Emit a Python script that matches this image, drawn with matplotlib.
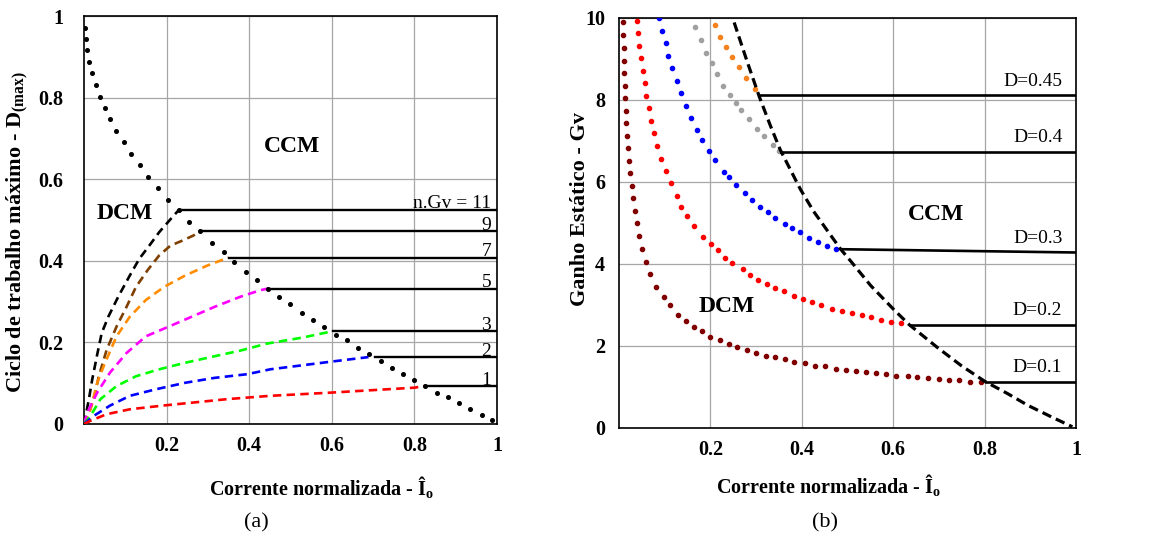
import matplotlib.pyplot as plt

plt.rcParams['font.family'] = ['Liberation Serif', 'DejaVu Serif']
plt.rcParams['mathtext.fontset'] = 'custom'
plt.rcParams['mathtext.rm'] = 'Liberation Serif'
plt.rcParams['mathtext.bf'] = 'Liberation Serif:bold'

# ---- (a) ciclo de trabalho maximo ----
bound_a_x = [0.002, 0.004, 0.007, 0.011, 0.020, 0.029, 0.038, 0.051, 0.063, 0.078, 0.096, 0.113,
             0.135, 0.154, 0.180, 0.204, 0.230, 0.255, 0.281, 0.310, 0.338, 0.364, 0.393, 0.419,
             0.446, 0.473, 0.500, 0.528, 0.554, 0.582, 0.610, 0.637, 0.663, 0.690, 0.718, 0.745,
             0.772, 0.800, 0.826, 0.854, 0.881, 0.908, 0.935, 0.963, 0.989]
bound_a_y = [0.972, 0.944, 0.916, 0.887, 0.860, 0.831, 0.802, 0.775, 0.747, 0.718, 0.691, 0.662,
             0.634, 0.606, 0.578, 0.549, 0.525, 0.496, 0.472, 0.444, 0.421, 0.396, 0.372, 0.352,
             0.332, 0.312, 0.294, 0.273, 0.255, 0.237, 0.219, 0.205, 0.186, 0.171, 0.155, 0.138,
             0.122, 0.108, 0.093, 0.077, 0.065, 0.051, 0.036, 0.023, 0.009]

ngv_labels = ['n.Gv = 11', '9', '7', '5', '3', '2', '1']
ngv_colors = ['black', '#7f3f00', '#ff8c00', '#ff00ff', '#00ff00', '#0000ff', '#ff0000']
ngv_x = [
    [0, 0.006, 0.012, 0.020, 0.032, 0.043, 0.059, 0.083, 0.111, 0.134, 0.158, 0.182, 0.213, 0.230],
    [0, 0.010, 0.024, 0.036, 0.055, 0.079, 0.103, 0.126, 0.154, 0.182, 0.209, 0.237, 0.265, 0.281],
    [0, 0.007, 0.016, 0.032, 0.051, 0.079, 0.111, 0.150, 0.194, 0.245, 0.300, 0.350],
    [0, 0.008, 0.032, 0.063, 0.103, 0.150, 0.206, 0.261, 0.316, 0.379, 0.427, 0.446],
    [0, 0.016, 0.040, 0.079, 0.126, 0.182, 0.245, 0.316, 0.379, 0.443, 0.530, 0.600],
    [0, 0.024, 0.063, 0.111, 0.174, 0.245, 0.316, 0.395, 0.451, 0.600, 0.689],
    [0, 0.016, 0.055, 0.111, 0.190, 0.269, 0.348, 0.451, 0.600, 0.700, 0.800, 0.826],
]
ngv_y = [
    [0, 0.030, 0.061, 0.109, 0.170, 0.223, 0.263, 0.312, 0.364, 0.405, 0.437, 0.470, 0.506, 0.525],
    [0, 0.025, 0.061, 0.117, 0.182, 0.239, 0.287, 0.336, 0.377, 0.413, 0.437, 0.449, 0.462, 0.472],
    [0, 0.015, 0.036, 0.101, 0.150, 0.215, 0.263, 0.304, 0.336, 0.364, 0.389, 0.408],
    [0, 0.028, 0.077, 0.126, 0.174, 0.215, 0.239, 0.263, 0.287, 0.312, 0.328, 0.332],
    [0, 0.020, 0.061, 0.093, 0.117, 0.134, 0.150, 0.166, 0.180, 0.197, 0.212, 0.227],
    [0, 0.020, 0.045, 0.069, 0.085, 0.101, 0.113, 0.122, 0.134, 0.153, 0.164],
    [0, 0.008, 0.024, 0.036, 0.045, 0.053, 0.061, 0.069, 0.077, 0.083, 0.089, 0.093],
]
# inicio das retas horizontais (CCM)
ngv_line_x = [0.230, 0.281, 0.352, 0.446, 0.604, 0.704, 0.826]
ngv_line_y = [0.525, 0.472, 0.408, 0.332, 0.227, 0.164, 0.093]

# ---- (b) ganho estatico ----
bound_b_x = [0.252, 0.280, 0.307, 0.331, 0.353, 0.397, 0.426, 0.485, 0.507, 0.551, 0.602, 0.635,
             0.697, 0.749, 0.800, 0.850, 0.895, 0.950, 0.992]
bound_b_y = [9.89, 8.95, 8.08, 7.38, 6.78, 5.82, 5.28, 4.36, 4.07, 3.47, 2.88, 2.52,
             1.96, 1.52, 1.14, 0.84, 0.55, 0.25, 0.03]

d_labels = ['D=0.1', 'D=0.2', 'D=0.3', 'D=0.4', 'D=0.45']
d_colors = ['#800000', '#ff0000', '#0000ff', '#a0a0a0', '#f5821f']
d_x = [
    [0.0088, 0.0095, 0.0117, 0.0117, 0.0117, 0.0139, 0.0139, 0.0154, 0.0161, 0.0183, 0.0205, 0.022,
     0.024, 0.0286, 0.0308, 0.0352, 0.0396, 0.044, 0.0498, 0.0586, 0.0689, 0.082, 0.098, 0.111,
     0.130, 0.147, 0.165, 0.182, 0.199, 0.220, 0.240, 0.259, 0.280, 0.300, 0.322, 0.342, 0.364,
     0.384, 0.406, 0.428, 0.451, 0.474, 0.496, 0.518, 0.540, 0.562, 0.584, 0.606, 0.632, 0.653,
     0.677, 0.701, 0.723, 0.745, 0.769, 0.791],
    [0.040, 0.042, 0.044, 0.048, 0.053, 0.057, 0.059, 0.065, 0.070, 0.076, 0.084, 0.092, 0.103,
     0.113, 0.126, 0.136, 0.149, 0.164, 0.183, 0.201, 0.216, 0.232, 0.248, 0.271, 0.287, 0.304,
     0.324, 0.342, 0.362, 0.382, 0.403, 0.423, 0.443, 0.467, 0.489, 0.509, 0.531, 0.552, 0.574,
     0.595, 0.617],
    [0.088, 0.095, 0.102, 0.108, 0.117, 0.126, 0.136, 0.147, 0.158, 0.170, 0.181, 0.196, 0.210,
     0.229, 0.241, 0.256, 0.275, 0.291, 0.308, 0.325, 0.342, 0.363, 0.379, 0.396, 0.415, 0.436,
     0.456, 0.475],
    [0.166, 0.179, 0.190, 0.203, 0.215, 0.228, 0.242, 0.256, 0.267, 0.284, 0.302, 0.318, 0.336,
     0.351],
    [0.210, 0.222, 0.235, 0.248, 0.263, 0.278, 0.297],
]
d_y = [
    [9.89, 9.58, 9.26, 8.96, 8.65, 8.34, 8.04, 7.74, 7.43, 7.12, 6.82, 6.51, 6.21, 5.90, 5.60,
     5.29, 4.99, 4.68, 4.37, 4.06, 3.75, 3.44, 3.20, 2.99, 2.75, 2.61, 2.47, 2.36, 2.23, 2.15,
     2.05, 1.97, 1.89, 1.83, 1.75, 1.72, 1.68, 1.62, 1.58, 1.51, 1.50, 1.45, 1.42, 1.38, 1.36,
     1.34, 1.31, 1.28, 1.26, 1.24, 1.22, 1.20, 1.17, 1.17, 1.13, 1.11],
    [9.93, 9.63, 9.32, 9.02, 8.71, 8.41, 8.10, 7.80, 7.49, 7.19, 6.88, 6.57, 6.27, 5.97, 5.66,
     5.40, 5.17, 4.93, 4.67, 4.48, 4.33, 4.14, 4.02, 3.87, 3.72, 3.60, 3.50, 3.42, 3.34, 3.22,
     3.14, 3.08, 3.00, 2.91, 2.86, 2.81, 2.75, 2.70, 2.63, 2.58, 2.55],
    [9.99, 9.69, 9.38, 9.07, 8.77, 8.46, 8.16, 7.85, 7.55, 7.27, 7.02, 6.76, 6.54, 6.25, 6.13,
     5.93, 5.74, 5.56, 5.40, 5.26, 5.11, 4.98, 4.87, 4.79, 4.64, 4.53, 4.45, 4.37],
    [9.77, 9.46, 9.15, 8.91, 8.63, 8.35, 8.12, 7.93, 7.76, 7.53, 7.29, 7.11, 6.90, 6.76],
    [9.83, 9.54, 9.28, 9.04, 8.80, 8.54, 8.26],
]
# retas horizontais (CCM): inicio x, y inicial, y final
d_line_x = [0.804, 0.636, 0.486, 0.355, 0.308]
d_line_y0 = [1.12, 2.51, 4.36, 6.74, 8.11]
d_line_y1 = [1.12, 2.51, 4.28, 6.74, 8.11]

fig = plt.figure(figsize=(11.71, 5.36), dpi=100)
ax1 = fig.add_axes([0.0717, 0.209, 0.3527, 0.761])
ax2 = fig.add_axes([0.5286, 0.2015, 0.3903, 0.765])

tick_font = dict(fontsize=14.5, fontweight='bold')
grid_kw = dict(color='#a6a6a6', lw=0.9)

# (a)
for i in range(len(ngv_labels)):
    ax1.plot(ngv_x[i], ngv_y[i], color=ngv_colors[i], lw=1.9, dashes=(3.2, 2.0), zorder=3)
    ax1.plot([ngv_line_x[i], 1.0], [ngv_line_y[i], ngv_line_y[i]], color='black', lw=1.7, zorder=3)
    ax1.annotate(ngv_labels[i], (0.986, ngv_line_y[i]), xytext=(0, 1), textcoords='offset points',
                 ha='right', va='baseline', fontsize=14)
ax1.plot(bound_a_x, bound_a_y, 'o', color='black', ms=2.6, zorder=4)
ax1.text(0.098, 0.517, 'DCM', ha='center', va='center', fontsize=17, fontweight='bold')
ax1.text(0.504, 0.680, 'CCM', ha='center', va='center', fontsize=17, fontweight='bold')

ax1.set_xlim(0, 1)
ax1.set_ylim(0, 1)
ax1.set_xticks([0.2, 0.4, 0.6, 0.8, 1.0])
ax1.set_xticklabels(['0.2', '0.4', '0.6', '0.8', '1'], **tick_font)
ax1.set_yticks([0, 0.2, 0.4, 0.6, 0.8, 1.0])
ax1.set_yticklabels(['0', '0.2', '0.4', '0.6', '0.8', '1'], **tick_font)
ax1.tick_params(axis='y', length=0, pad=15)
ax1.tick_params(axis='x', length=0, pad=9)
ax1.grid(True, **grid_kw)
ax1.set_axisbelow(True)
ax1.set_xlabel('Corrente normalizada - Î$_\\mathbf{o}$', fontsize=14.5, fontweight='bold')
ax1.xaxis.set_label_coords(0.576, -0.125)
ax1.set_ylabel('Ciclo de trabalho máximo - D$_\\mathbf{(max)}$', fontsize=16, fontweight='bold')
ax1.yaxis.set_label_coords(-0.128, 0.47)

# (b)
for i in range(len(d_labels)):
    ax2.plot(d_x[i], d_y[i], 'o', color=d_colors[i], ms=3.0, zorder=3)
    ax2.plot([d_line_x[i], 1.0], [d_line_y0[i], d_line_y1[i]], color='black', lw=1.9, zorder=3)
    ax2.annotate(d_labels[i], (0.97, d_line_y1[i]), xytext=(0, 7), textcoords='offset points',
                 ha='right', va='baseline', fontsize=14)
ax2.plot(bound_b_x, bound_b_y, color='black', lw=2.3, dashes=(3, 1.6), zorder=4)
ax2.text(0.236, 2.96, 'DCM', ha='center', va='center', fontsize=17, fontweight='bold')
ax2.text(0.694, 5.2, 'CCM', ha='center', va='center', fontsize=17, fontweight='bold')

ax2.set_xlim(0, 1)
ax2.set_ylim(0, 10)
ax2.set_xticks([0.2, 0.4, 0.6, 0.8, 1.0])
ax2.set_xticklabels(['0.2', '0.4', '0.6', '0.8', '1'], **tick_font)
ax2.set_yticks([0, 2, 4, 6, 8, 10])
ax2.set_yticklabels(['0', '2', '4', '6', '8', '10'], **tick_font)
ax2.tick_params(axis='y', length=0, pad=10)
ax2.tick_params(axis='x', length=0, pad=9)
ax2.grid(True, **grid_kw)
ax2.set_axisbelow(True)
ax2.set_xlabel('Corrente normalizada - Î$_\\mathbf{o}$', fontsize=14.5, fontweight='bold')
ax2.xaxis.set_label_coords(0.459, -0.108)
ax2.set_ylabel('Ganho Estático - Gv', fontsize=16, fontweight='bold')
ax2.yaxis.set_label_coords(-0.064, 0.534)

for ax in (ax1, ax2):
    for s in ax.spines.values():
        s.set_linewidth(1.2)
        s.set_color('black')

fig.text(0.2186, 0.0243, '(a)', ha='center', va='center', fontsize=16)
fig.text(0.7045, 0.0243, '(b)', ha='center', va='center', fontsize=16)

fig.savefig('out.png', dpi=100)
